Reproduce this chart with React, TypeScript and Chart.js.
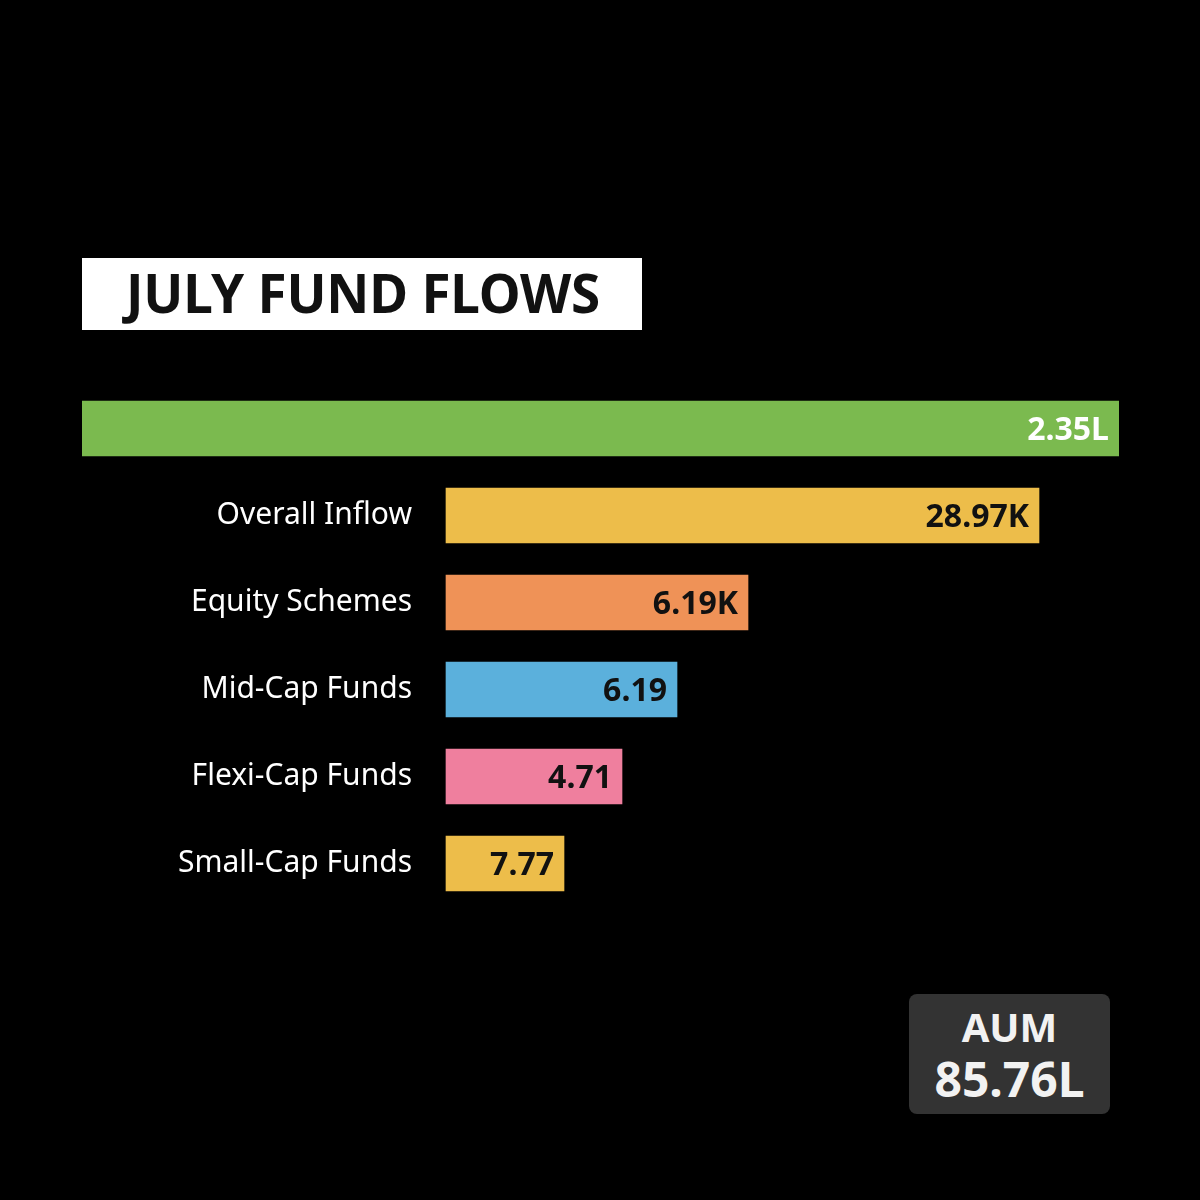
import React, { useEffect, useRef } from 'react';
import Chart from 'chart.js/auto';

// categories (first row is the full-width total bar, it has no label)
const categories = ['', 'Overall Inflow', 'Equity Schemes', 'Mid-Cap Funds', 'Flexi-Cap Funds', 'Small-Cap Funds'];
// bar lengths as drawn in the picture (display units)
const totalBar = [103.7, null, null, null, null, null];
const flowBars = [null, 59.3, 30.2, 23.1, 17.6, 11.8];
// printed values on the bars
const valueLabels = ['2.35L', '28.97K', '6.19K', '6.19', '4.71', '7.77'];
const barColors = ['#7bba4f', '#edbd4a', '#ef9257', '#5bb0dc', '#ef7f9e', '#edbd4a'];
const labelColors = ['#ffffff', '#111111', '#111111', '#111111', '#111111', '#111111'];

const FONT = '"Noto Sans", "Open Sans", sans-serif';

const barValueLabels = {
    id: 'barValueLabels',
    afterDatasetsDraw(chart: any) {
        const ctx = chart.ctx;
        ctx.save();
        ctx.font = `bold 32px ${FONT}`;
        ctx.textAlign = 'right';
        ctx.textBaseline = 'middle';
        chart.data.datasets.forEach((ds: any, di: number) => {
            chart.getDatasetMeta(di).data.forEach((bar: any, i: number) => {
                if (ds.data[i] == null) return;
                ctx.fillStyle = labelColors[i];
                ctx.fillText(valueLabels[i], bar.x - 10, bar.y + 2);
            });
        });
        ctx.restore();
    }
};

const FundFlows = () => {
    const canvasRef = useRef<HTMLCanvasElement>(null);

    useEffect(() => {
        let chart: Chart | null = null;
        if (canvasRef.current) {
            const ctx = canvasRef.current.getContext('2d');
            if (ctx) {
                chart = new Chart(ctx, {
                    type: 'bar',
                    data: {
                        labels: categories,
                        datasets: [
                            {
                                label: 'Total',
                                data: totalBar,
                                xAxisID: 'x2',
                                backgroundColor: barColors,
                                barThickness: 55,
                                grouped: false
                            },
                            {
                                label: 'Flows',
                                data: flowBars,
                                xAxisID: 'x',
                                backgroundColor: barColors,
                                barThickness: 55,
                                grouped: false
                            }
                        ]
                    } as any,
                    options: {
                        indexAxis: 'y',
                        responsive: false,
                        animation: false,
                        layout: { padding: { left: 82, right: 81, top: 385, bottom: 293 } },
                        plugins: {
                            legend: { display: false },
                            tooltip: { enabled: false }
                        },
                        scales: {
                            x: { display: false, min: -36.4, max: 67.3 },
                            x2: { display: false, min: 0, max: 103.7 },
                            y: {
                                // category labels sit a little left of where the bars start
                                position: { x: -3.4 },
                                grid: { display: false, drawTicks: false },
                                border: { display: false },
                                ticks: {
                                    color: '#ffffff',
                                    font: { family: FONT, size: 30 }
                                }
                            }
                        }
                    } as any,
                    plugins: [barValueLabels]
                });
            }
        }
        return () => {
            if (chart) chart.destroy();
        };
    }, []);

    return (
        <div style={{ position: 'fixed', left: 0, top: 0, width: 1200, height: 1200, background: '#000' }}>
            <canvas ref={canvasRef} width={1200} height={1200} style={{ display: 'block' }}></canvas>
            <div style={{
                position: 'absolute', left: 82, top: 258, width: 560, height: 72,
                background: '#fff', color: '#111', fontFamily: FONT, fontWeight: 700,
                fontSize: 53, lineHeight: '70px', paddingLeft: 44, boxSizing: 'border-box',
                whiteSpace: 'nowrap', letterSpacing: '-0.2px'
            }}>
                JULY FUND FLOWS
            </div>
            <div style={{
                position: 'absolute', left: 909, top: 994, width: 201, height: 120,
                background: '#333333', borderRadius: 8, color: '#f2f2f2', fontFamily: FONT,
                fontWeight: 700, textAlign: 'center', boxSizing: 'border-box', paddingTop: 8
            }}>
                <div style={{ fontSize: 40, lineHeight: '50px' }}>AUM</div>
                <div style={{ fontSize: 48, lineHeight: '54px' }}>85.76L</div>
            </div>
        </div>
    );
};

export default function App() {
    return <FundFlows />;
}
